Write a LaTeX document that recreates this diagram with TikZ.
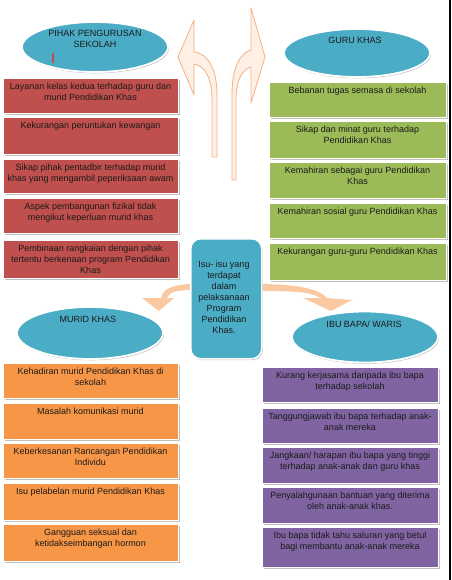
\documentclass[tikz,border=0pt]{standalone}
\usepackage{fontspec}
\setmainfont{Liberation Sans}
\usetikzlibrary{shadows,shapes.geometric}
\definecolor{cred}{HTML}{C0504D}
\definecolor{cgreen}{HTML}{9BBB59}
\definecolor{corange}{HTML}{F79646}
\definecolor{cpurple}{HTML}{8064A2}
\definecolor{cblue}{HTML}{4BACC6}
\definecolor{arrline}{HTML}{F4B183}
\definecolor{arrfill}{HTML}{FDEADA}
\definecolor{arrsolid}{HTML}{FAC090}
\definecolor{txtc}{HTML}{1A1A1A}
\begin{document}
\begin{tikzpicture}[x=1pt,y=-1pt,
  boxshadow/.style={drop shadow={shadow xshift=1pt,shadow yshift=-1.3pt,opacity=.35,fill=black!70}},
  listbox/.style={rectangle,draw=white,line width=1pt,boxshadow,minimum width=175pt,minimum height=#1,anchor=north west,inner sep=0pt},
  redbox/.style={listbox=#1,fill=cred},
  greenbox/.style={listbox=#1,fill=cgreen},
  orangebox/.style={listbox=#1,fill=corange},
  purplebox/.style={listbox=#1,fill=cpurple},
  bluell/.style={ellipse,fill=cblue,draw=white,line width=1.8pt,boxshadow,minimum width=146pt,minimum height=#1,inner sep=0pt},
  txt/.style={anchor=north,inner sep=0pt,align=center,text=txtc,font=\fontsize{9}{11}\selectfont},
  uparrow/.style={draw=arrline,line width=0.8pt,fill=arrfill!70,line join=round},
  downarrow/.style={fill=arrsolid!85}]
\useasboundingbox (0,0) rectangle (451,580);
\fill[white] (0,0) rectangle (451,580);

% up arrows
\draw[uparrow] (194,20) -- (178,57) -- (194,95) -- (194,64)
  .. controls (206,66) and (212,80) .. (212,100) -- (212,157) -- (217,157) -- (217,95)
  .. controls (217,68) and (207,53) .. (194,52) -- cycle;
\draw[uparrow] (251,8) -- (265,57) -- (251,103) -- (251,67)
  .. controls (241,70) and (236,82) .. (236,100) -- (236,180) -- (232,180) -- (232,95)
  .. controls (232,68) and (240,53) .. (251,50) -- cycle;

% down arrows
\fill[downarrow] (195,284) .. controls (172,284) and (163,289) .. (161,298) -- (142,298) -- (159,311) -- (174,298) -- (167,298) .. controls (169,292) and (176,290) .. (195,290) -- cycle;
\fill[downarrow] (256,284) .. controls (295,284) and (318,288) .. (327,298) -- (352,300) -- (331,311) -- (303,298) -- (320,298) .. controls (312,292) and (295,291) .. (256,291) -- cycle;

% centre box
\node[rectangle,rounded corners=10pt,fill=cblue,draw=white,line width=1.5pt,boxshadow,minimum width=71pt,minimum height=120pt,anchor=north west] (ctr) at (190,238) {};
\node[txt] (ctrt) at (224,261) {Isu- isu yang\\terdapat\\dalam\\pelaksanaan\\Program\\Pendidikan\\Khas.};

% ellipses
\node[bluell=50pt] (e1) at (95,47) {};
\node[txt] (e1t) at (95,30.5) {PIHAK PENGURUSAN\\SEKOLAH};
\draw[cred,line width=1.8pt] (53,53) -- (53,63);
\node[bluell=48pt] (e2) at (357,53) {};
\node[txt] (e2t) at (355,37) {GURU KHAS};
\node[bluell=52pt] (e3) at (90,333) {};
\node[txt] (e3t) at (88,316.5) {MURID KHAS};
\node[bluell=51pt] (e4) at (365,337) {};
\node[txt] (e4t) at (364,320.5) {IBU BAPA/ WARIS};

% red boxes
\node[redbox=35pt] (r1) at (3,78) {};
\node[txt] (r1t) at (90.5,82.5) {Layanan kelas kedua terhadap guru dan\\murid Pendidikan Khas};
\node[redbox=37pt] (r2) at (3,117) {};
\node[txt] (r2t) at (90.5,121.5) {Kekurangan peruntukan kewangan};
\node[redbox=34pt] (r3) at (3,159) {};
\node[txt] (r3t) at (90.5,163.5) {Sikap pihak pentadbir terhadap murid\\khas yang mengambil peperiksaan awam};
\node[redbox=35pt] (r4) at (3,198) {};
\node[txt] (r4t) at (90.5,202.5) {Aspek pembangunan fizikal tidak\\mengikut keperluan murid khas};
\node[redbox=38pt] (r5) at (3,240) {};
\node[txt] (r5t) at (90.5,244.5) {Pembinaan rangkaian dengan pihak\\tertentu berkenaan program Pendidikan\\Khas};

% green boxes
\node[greenbox=35pt,minimum width=177pt] (g1) at (269,82) {};
\node[txt] (g1t) at (357.5,86.5) {Bebanan tugas semasa di sekolah};
\node[greenbox=37pt,minimum width=177pt] (g2) at (269,121) {};
\node[txt] (g2t) at (357.5,125.5) {Sikap dan minat guru terhadap\\Pendidikan Khas};
\node[greenbox=36pt,minimum width=177pt] (g3) at (269,162) {};
\node[txt] (g3t) at (357.5,166.5) {Kemahiran sebagai guru Pendidikan\\Khas};
\node[greenbox=35pt,minimum width=177pt] (g4) at (269,203) {};
\node[txt] (g4t) at (357.5,207.5) {Kemahiran sosial guru Pendidikan Khas};
\node[greenbox=37pt,minimum width=177pt] (g5) at (269,243) {};
\node[txt] (g5t) at (357.5,247.5) {Kekurangan guru-guru Pendidikan Khas};

% orange boxes
\node[orangebox=35pt] (o1) at (3,363) {};
\node[txt] (o1t) at (90.5,367.5) {Kehadiran murid Pendidikan Khas di\\sekolah};
\node[orangebox=36pt] (o2) at (3,403) {};
\node[txt] (o2t) at (90.5,407.5) {Masalah komunikasi murid};
\node[orangebox=35pt] (o3) at (3,443) {};
\node[txt] (o3t) at (90.5,447.5) {Keberkesanan Rancangan Pendidikan\\Individu};
\node[orangebox=37pt] (o4) at (3,483) {};
\node[txt] (o4t) at (90.5,487.5) {Isu pelabelan murid Pendidikan Khas};
\node[orangebox=37pt] (o5) at (3,524) {};
\node[txt] (o5t) at (90.5,528.5) {Gangguan seksual dan\\ketidakseimbangan hormon};

% purple boxes
\node[purplebox=35pt,minimum width=176pt] (p1) at (262,367) {};
\node[txt] (p1t) at (350,371.5) {Kurang kerjasama daripada ibu bapa\\terhadap sekolah};
\node[purplebox=35pt,minimum width=176pt] (p2) at (262,408) {};
\node[txt] (p2t) at (350,412.5) {Tanggungjawab ibu bapa terhadap anak-\\anak mereka};
\node[purplebox=36pt,minimum width=176pt] (p3) at (262,447) {};
\node[txt] (p3t) at (350,451.5) {Jangkaan/ harapan ibu bapa yang tinggi\\terhadap anak-anak dan guru khas};
\node[purplebox=36pt,minimum width=176pt] (p4) at (262,487) {};
\node[txt] (p4t) at (350,491.5) {Penyalahgunaan bantuan yang diterima\\oleh anak-anak khas.};
\node[purplebox=40pt,minimum width=176pt] (p5) at (262,527) {};
\node[txt] (p5t) at (350,531.5) {Ibu bapa tidak tahu saluran yang betul\\bagi membantu anak-anak mereka};

% right border
\draw[black,line width=2pt] (450,0) -- (450,580);
\end{tikzpicture}
\end{document}
